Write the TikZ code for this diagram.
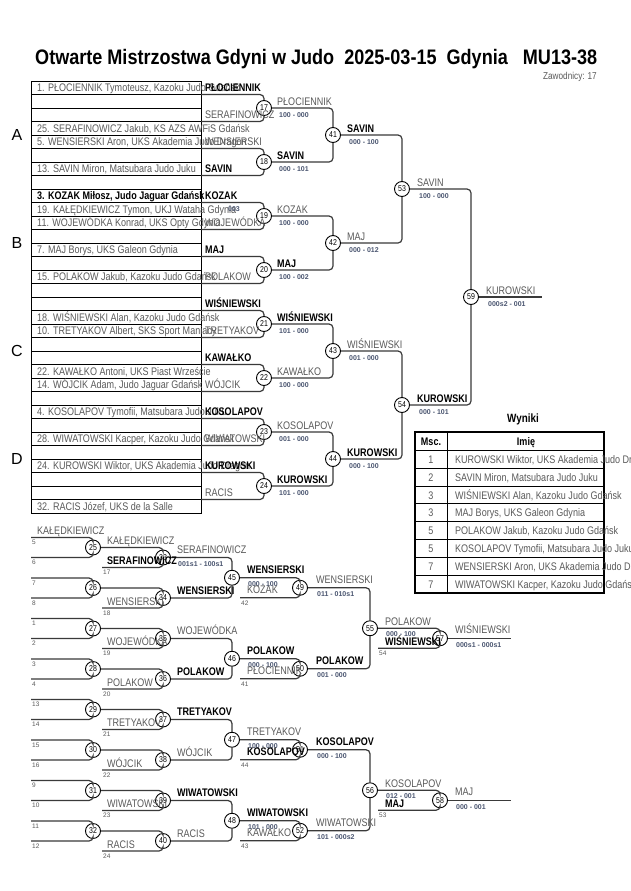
\documentclass[tikz,border=0pt]{standalone}
\usepackage{fontspec}
\setmainfont{Liberation Sans}[FakeStretch=0.82]
\newfontfamily\scfont{Liberation Sans}
\newfontfamily\titlefont{Liberation Sans}[FakeStretch=0.86]
\definecolor{linec}{HTML}{3A3A3A}
\definecolor{namec}{HTML}{5A5A5A}
\definecolor{scorec}{HTML}{4A5570}
\newcommand\scf{\scfont\fontsize{7}{8}\selectfont\bfseries}
\newcommand\sdf{\scfont\fontsize{6.5}{7}\selectfont}
\newcommand\nmf{\fontsize{11}{12}\selectfont}
\tikzset{
  conn/.style={draw=linec, line width=1.2pt, rounded corners=4pt},
  tbl/.style={draw=black, line width=0.9pt},
  mc/.style={circle, draw=black, fill=white, line width=0.9pt, minimum size=15pt, inner sep=0pt, font=\fontsize{8.5}{9}\selectfont},
  nm/.style={anchor=base west, inner sep=0pt, text=namec, font=\nmf},
  nb/.style={anchor=base west, inner sep=0pt, text=black, font=\nmf\bfseries},
  tt/.style={anchor=base west, inner sep=0pt, text=namec, font=\nmf},
  sc/.style={anchor=base west, inner sep=0pt, text=scorec, font=\scf},
  sd/.style={anchor=base west, inner sep=0pt, text=namec, font=\sdf},
}
\begin{document}
\begin{tikzpicture}[x=1pt,y=-1pt]
\useasboundingbox[fill=white] (0,0) rectangle (630,891);
% title
\node[anchor=base west, inner sep=0pt, font=\titlefont\bfseries\fontsize{21}{24}\selectfont] (title) at (35,64.5) {Otwarte Mistrzostwa Gdyni w Judo\ \ 2025-03-15\ \ Gdynia\ \ \ MU13-38};
\node[anchor=base east, inner sep=0pt, text=namec, font=\fontsize{10}{11}\selectfont] (zaw) at (597,79.5) {Zawodnicy: 17};
% pool letters
\node[anchor=base, inner sep=0pt, font=\scfont\fontsize{16}{18}\selectfont] (pA) at (17,140.7) {A};
\node[anchor=base, inner sep=0pt, font=\scfont\fontsize{16}{18}\selectfont] (pB) at (17,248.7) {B};
\node[anchor=base, inner sep=0pt, font=\scfont\fontsize{16}{18}\selectfont] (pC) at (17,356.7) {C};
\node[anchor=base, inner sep=0pt, font=\scfont\fontsize{16}{18}\selectfont] (pD) at (17,464.7) {D};
% draw table
\foreach \i in {1,...,32} \draw[tbl] (31,{81+13.5*(\i-1)}) rectangle (201,{81+13.5*\i});
\node[tt] (t1) at (37,91.75) {1. PŁOCIENNIK Tymoteusz, Kazoku Judo Gdańsk};
\node[tt] (t4) at (37,132.25) {25. SERAFINOWICZ Jakub, KS AZS AWFiS Gdańsk};
\node[tt] (t5) at (37,145.75) {5. WENSIERSKI Aron, UKS Akademia Judo Dragon};
\node[tt] (t7) at (37,172.75) {13. SAVIN Miron, Matsubara Judo Juku};
\node[tt, text=black, font=\nmf\bfseries] (t9) at (37,199.75) {3. KOZAK Miłosz, Judo Jaguar Gdańsk};
\node[tt] (t10) at (37,213.25) {19. KAŁĘDKIEWICZ Tymon, UKJ Wataha Gdynia};
\node[tt] (t11) at (37,226.75) {11. WOJEWÓDKA Konrad, UKS Opty Gdynia};
\node[tt] (t13) at (37,253.75) {7. MAJ Borys, UKS Galeon Gdynia};
\node[tt] (t15) at (37,280.75) {15. POLAKOW Jakub, Kazoku Judo Gdańsk};
\node[tt] (t18) at (37,321.25) {18. WIŚNIEWSKI Alan, Kazoku Judo Gdańsk};
\node[tt] (t19) at (37,334.75) {10. TRETYAKOV Albert, SKS Sport Maniacy};
\node[tt] (t22) at (37,375.25) {22. KAWAŁKO Antoni, UKS Piast Wrzeście};
\node[tt] (t23) at (37,388.75) {14. WÓJCIK Adam, Judo Jaguar Gdańsk};
\node[tt] (t25) at (37,415.75) {4. KOSOLAPOV Tymofii, Matsubara Judo Juku};
\node[tt] (t27) at (37,442.75) {28. WIWATOWSKI Kacper, Kazoku Judo Gdańsk};
\node[tt] (t29) at (37,469.75) {24. KUROWSKI Wiktor, UKS Akademia Judo Dragon};
\node[tt] (t32) at (37,510.25) {32. RACIS Józef, UKS de la Salle};
% top bracket circles
\node[mc] (m17) at (264,108) {17};
\node[mc] (m18) at (264,162) {18};
\node[mc] (m19) at (264,216) {19};
\node[mc] (m20) at (264,270) {20};
\node[mc] (m21) at (264,324) {21};
\node[mc] (m22) at (264,378) {22};
\node[mc] (m23) at (264,432) {23};
\node[mc] (m24) at (264,486) {24};
\node[mc] (m41) at (333,135) {41};
\node[mc] (m42) at (333,243) {42};
\node[mc] (m43) at (333,351) {43};
\node[mc] (m44) at (333,459) {44};
\node[mc] (m53) at (402,189) {53};
\node[mc] (m54) at (402,405) {54};
\node[mc] (m59) at (471,297) {59};
% input coordinates
\coordinate (i17a) at (201,94.5);  \coordinate (i17b) at (201,121.5);
\coordinate (i18a) at (201,148.5); \coordinate (i18b) at (201,175.5);
\coordinate (i19a) at (201,202.5); \coordinate (i19b) at (201,229.5);
\coordinate (i20a) at (201,256.5); \coordinate (i20b) at (201,283.5);
\coordinate (i21a) at (201,310.5); \coordinate (i21b) at (201,337.5);
\coordinate (i22a) at (201,364.5); \coordinate (i22b) at (201,391.5);
\coordinate (i23a) at (201,418.5); \coordinate (i23b) at (201,445.5);
\coordinate (i24a) at (201,472.5); \coordinate (i24b) at (201,499.5);
\coordinate (o59) at (542,297);
\foreach \m in {17,...,24} {\draw[conn] (i\m a) -| (m\m); \draw[conn] (i\m b) -| (m\m);}
\draw[conn] (m17) -| (m41); \draw[conn] (m18) -| (m41);
\draw[conn] (m19) -| (m42); \draw[conn] (m20) -| (m42);
\draw[conn] (m21) -| (m43); \draw[conn] (m22) -| (m43);
\draw[conn] (m23) -| (m44); \draw[conn] (m24) -| (m44);
\draw[conn] (m41) -| (m53); \draw[conn] (m42) -| (m53);
\draw[conn] (m43) -| (m54); \draw[conn] (m44) -| (m54);
\draw[conn] (m53) -| (m59); \draw[conn] (m54) -| (m59);
\draw[conn] (m59) -- (o59);
% round 1 labels
\node[nb] (l17a) at (205,91.5) {PŁOCIENNIK};
\node[nm] (l17b) at (205,118.5) {SERAFINOWICZ};
\node[nm] (l18a) at (205,145.5) {WENSIERSKI};
\node[nb] (l18b) at (205,172.5) {SAVIN};
\node[nb] (l19a) at (205,199.5) {KOZAK};
\node[sc] (x19) at (228,211.5) {003};
\node[nm] (l19b) at (205,226.5) {WOJEWÓDKA};
\node[nb] (l20a) at (205,253.5) {MAJ};
\node[nm] (l20b) at (205,280.5) {POLAKOW};
\node[nb] (l21a) at (205,307.5) {WIŚNIEWSKI};
\node[nm] (l21b) at (205,334.5) {TRETYAKOV};
\node[nb] (l22a) at (205,361.5) {KAWAŁKO};
\node[nm] (l22b) at (205,388.5) {WÓJCIK};
\node[nb] (l23a) at (205,415.5) {KOSOLAPOV};
\node[nm] (l23b) at (205,442.5) {WIWATOWSKI};
\node[nb] (l24a) at (205,469.5) {KUROWSKI};
\node[nm] (l24b) at (205,496.5) {RACIS};
% round 1 outputs
\node[nm] (w17) at (277,105) {PŁOCIENNIK};  \node[sc] (s17) at (279,117.5) {100 - 000};
\node[nb] (w18) at (277,159) {SAVIN};       \node[sc] (s18) at (279,171.5) {000 - 101};
\node[nm] (w19) at (277,213) {KOZAK};       \node[sc] (s19) at (279,225.5) {100 - 000};
\node[nb] (w20) at (277,267) {MAJ};         \node[sc] (s20) at (279,279.5) {100 - 002};
\node[nb] (w21) at (277,321) {WIŚNIEWSKI};  \node[sc] (s21) at (279,333.5) {101 - 000};
\node[nm] (w22) at (277,375) {KAWAŁKO};     \node[sc] (s22) at (279,387.5) {100 - 000};
\node[nm] (w23) at (277,429) {KOSOLAPOV};   \node[sc] (s23) at (279,441.5) {001 - 000};
\node[nb] (w24) at (277,483) {KUROWSKI};    \node[sc] (s24) at (279,495.5) {101 - 000};
\node[nb] (w41) at (347,132) {SAVIN};       \node[sc] (s41) at (349,144.5) {000 - 100};
\node[nm] (w42) at (347,240) {MAJ};         \node[sc] (s42) at (349,252.5) {000 - 012};
\node[nm] (w43) at (347,348) {WIŚNIEWSKI};  \node[sc] (s43) at (349,360.5) {001 - 000};
\node[nb] (w44) at (347,456) {KUROWSKI};    \node[sc] (s44) at (349,468.5) {000 - 100};
\node[nm] (w53) at (417,186) {SAVIN};       \node[sc] (s53) at (419,198.5) {100 - 000};
\node[nb] (w54) at (417,402) {KUROWSKI};    \node[sc] (s54) at (419,414.5) {000 - 101};
\node[nm] (w59) at (486,294) {KUROWSKI};    \node[sc] (s59) at (488,306.5) {000s2 - 001};
% results table
\node[anchor=base, inner sep=0pt, font=\fontsize{12}{13}\selectfont\bfseries] (wyn) at (523,422.3) {Wyniki};
\draw[tbl, line width=1.6pt] (415,432) rectangle (604,593);
\draw[tbl, line width=1.2pt] (415,450.5) -- (604,450.5);
\foreach \r in {1,...,7} \draw[tbl] (415,{450.5+17.8*\r}) -- (604,{450.5+17.8*\r});
\draw[tbl] (447,432) -- (447,593);
\node[anchor=base, inner sep=0pt, font=\nmf\bfseries] (hm) at (431,445) {Msc.};
\node[anchor=base, inner sep=0pt, font=\nmf\bfseries] (hi) at (526,445) {Imię};
\foreach \r/\p/\n in {1/1/{KUROWSKI Wiktor, UKS Akademia Judo Dragon},2/2/{SAVIN Miron, Matsubara Judo Juku},3/3/{WIŚNIEWSKI Alan, Kazoku Judo Gdańsk},4/3/{MAJ Borys, UKS Galeon Gdynia},5/5/{POLAKOW Jakub, Kazoku Judo Gdańsk},6/5/{KOSOLAPOV Tymofii, Matsubara Judo Juku},7/7/{WENSIERSKI Aron, UKS Akademia Judo Dragon},8/7/{WIWATOWSKI Kacper, Kazoku Judo Gdańsk}} {
  \node[anchor=base, inner sep=0pt, text=namec, font=\nmf] (rp\r) at (431,{450.5+17.8*(\r-0.5)+4}) {\p};
  \node[tt] (rn\r) at (455,{450.5+17.8*(\r-0.5)+4}) {\n};
}
% bottom bracket circles
\node[mc] (m25) at (93,547.5) {25};
\node[mc] (m26) at (93,588) {26};
\node[mc] (m27) at (93,628.5) {27};
\node[mc] (m28) at (93,669) {28};
\node[mc] (m29) at (93,709.5) {29};
\node[mc] (m30) at (93,750) {30};
\node[mc] (m31) at (93,790.5) {31};
\node[mc] (m32) at (93,831) {32};
\node[mc] (m33) at (163,557.5) {33};
\node[mc] (m34) at (163,598) {34};
\node[mc] (m35) at (163,638.5) {35};
\node[mc] (m36) at (163,679) {36};
\node[mc] (m37) at (163,719.5) {37};
\node[mc] (m38) at (163,760) {38};
\node[mc] (m39) at (163,800.5) {39};
\node[mc] (m40) at (163,841) {40};
\node[mc] (m45) at (232,577.75) {45};
\node[mc] (m46) at (232,658.75) {46};
\node[mc] (m47) at (232,739.75) {47};
\node[mc] (m48) at (232,820.75) {48};
\node[mc] (m49) at (300,587.75) {49};
\node[mc] (m50) at (300,668.75) {50};
\node[mc] (m51) at (300,749.75) {51};
\node[mc] (m52) at (300,830.75) {52};
\node[mc] (m55) at (370,628.25) {55};
\node[mc] (m56) at (370,790.25) {56};
\node[mc] (m57) at (440,638.25) {57};
\node[mc] (m58) at (440,800.25) {58};
% A inputs
\foreach \m/\c in {25/547.5,26/588,27/628.5,28/669,29/709.5,30/750,31/790.5,32/831} {
  \coordinate (a\m t) at (31,{\c-10}); \coordinate (a\m b) at (31,{\c+10});
  \draw[conn] (a\m t) -| (m\m); \draw[conn] (a\m b) -| (m\m);
}
% B bottom inputs
\foreach \m/\c in {33/567.5,34/608,35/648.5,36/689,37/729.5,38/770,39/810.5,40/851} {
  \coordinate (b\m) at (102,\c); \draw[conn] (b\m) -| (m\m);
}
\draw[conn] (m25) -| (m33); \draw[conn] (m26) -| (m34);
\draw[conn] (m27) -| (m35); \draw[conn] (m28) -| (m36);
\draw[conn] (m29) -| (m37); \draw[conn] (m30) -| (m38);
\draw[conn] (m31) -| (m39); \draw[conn] (m32) -| (m40);
\draw[conn] (m33) -| (m45); \draw[conn] (m34) -| (m45);
\draw[conn] (m35) -| (m46); \draw[conn] (m36) -| (m46);
\draw[conn] (m37) -| (m47); \draw[conn] (m38) -| (m47);
\draw[conn] (m39) -| (m48); \draw[conn] (m40) -| (m48);
\coordinate (d49) at (240,597.75); \coordinate (d50) at (240,678.75);
\coordinate (d51) at (240,759.75); \coordinate (d52) at (240,840.75);
\draw[conn] (m45) -| (m49); \draw[conn] (d49) -| (m49);
\draw[conn] (m46) -| (m50); \draw[conn] (d50) -| (m50);
\draw[conn] (m47) -| (m51); \draw[conn] (d51) -| (m51);
\draw[conn] (m48) -| (m52); \draw[conn] (d52) -| (m52);
\draw[conn] (m49) -| (m55); \draw[conn] (m50) -| (m55);
\draw[conn] (m51) -| (m56); \draw[conn] (m52) -| (m56);
\coordinate (f57) at (378,648.25); \coordinate (f58) at (378,810.25);
\draw[conn] (m55) -| (m57); \draw[conn] (f57) -| (m57);
\draw[conn] (m56) -| (m58); \draw[conn] (f58) -| (m58);
\coordinate (o57) at (511,638.25); \coordinate (o58) at (511,800.25);
\draw[conn] (m57) -- (o57); \draw[conn] (m58) -- (o58);
% seeds
\foreach \t/\y in {5/544.8,6/564.8,7/585.3,8/605.3,1/625.8,2/645.8,3/666.3,4/686.3,13/706.8,14/726.8,15/747.3,16/767.3,9/787.8,10/807.8,11/828.3,12/848.3}
  \node[sd] (sa\t) at (32,\y) {\t};
\foreach \t/\y in {17/574.8,18/615.3,19/655.8,20/696.3,21/736.8,22/777.3,23/817.8,24/858.3}
  \node[sd] (sb\t) at (103,\y) {\t};
\foreach \t/\y in {42/605.05,41/686.05,44/767.05,43/848.05}
  \node[sd] (sc\t) at (241,\y) {\t};
\node[sd] (se54) at (379,655.55) {54};
\node[sd] (se53) at (379,817.55) {53};
% A / B labels
\node[nm] (k25) at (37,534.5) {KAŁĘDKIEWICZ};
\node[nm] (k33a) at (107,544.5) {KAŁĘDKIEWICZ};
\node[nb] (k33b) at (107,564.5) {SERAFINOWICZ};
\node[nm] (k34b) at (107,605) {WENSIERSKI};
\node[nm] (k35b) at (107,645.5) {WOJEWÓDKA};
\node[nm] (k36b) at (107,686) {POLAKOW};
\node[nm] (k37b) at (107,726.5) {TRETYAKOV};
\node[nm] (k38b) at (107,767) {WÓJCIK};
\node[nm] (k39b) at (107,807.5) {WIWATOWSKI};
\node[nm] (k40b) at (107,848) {RACIS};
% B outputs
\node[nm] (w33) at (177,553.5) {SERAFINOWICZ}; \node[sc] (s33) at (178,566) {001s1 - 100s1};
\node[nb] (w34) at (177,594) {WENSIERSKI};
\node[nm] (w35) at (177,634.5) {WOJEWÓDKA};
\node[nb] (w36) at (177,675) {POLAKOW};
\node[nb] (w37) at (177,715.5) {TRETYAKOV};
\node[nm] (w38) at (177,756) {WÓJCIK};
\node[nb] (w39) at (177,796.5) {WIWATOWSKI};
\node[nm] (w40) at (177,837) {RACIS};
% C
\node[nb] (w45) at (247,573.75) {WENSIERSKI}; \node[sc] (s45) at (248,586.25) {000 - 100}; \node[nm] (k45) at (247,593.75) {KOZAK};
\node[nb] (w46) at (247,654.75) {POLAKOW}; \node[sc] (s46) at (248,667.25) {000 - 100}; \node[nm] (k46) at (247,674.75) {PŁOCIENNIK};
\node[nm] (w47) at (247,735.75) {TRETYAKOV}; \node[sc] (s47) at (248,748.25) {100 - 000}; \node[nb] (k47) at (247,755.75) {KOSOLAPOV};
\node[nb] (w48) at (247,816.75) {WIWATOWSKI}; \node[sc] (s48) at (248,829.25) {101 - 000}; \node[nm] (k48) at (247,836.75) {KAWAŁKO};
% D
\node[nm] (w49) at (316,583.75) {WENSIERSKI}; \node[sc] (s49) at (317,596.25) {011 - 010s1};
\node[nb] (w50) at (316,664.75) {POLAKOW}; \node[sc] (s50) at (317,677.25) {001 - 000};
\node[nb] (w51) at (316,745.75) {KOSOLAPOV}; \node[sc] (s51) at (317,758.25) {000 - 100};
\node[nm] (w52) at (316,826.75) {WIWATOWSKI}; \node[sc] (s52) at (317,839.25) {101 - 000s2};
% E
\node[nm] (w55) at (385,625.25) {POLAKOW}; \node[sc] (s55) at (386,636.75) {000 - 100}; \node[nb] (k55) at (385,645.25) {WIŚNIEWSKI};
\node[nm] (w56) at (385,787.25) {KOSOLAPOV}; \node[sc] (s56) at (386,798.75) {012 - 001}; \node[nb] (k56) at (385,807.25) {MAJ};
% F
\node[nm] (w57) at (455,633.75) {WIŚNIEWSKI}; \node[sc] (s57) at (456,647.75) {000s1 - 000s1};
\node[nm] (w58) at (455,795.75) {MAJ}; \node[sc] (s58) at (456,809.75) {000 - 001};
\end{tikzpicture}
\end{document}
